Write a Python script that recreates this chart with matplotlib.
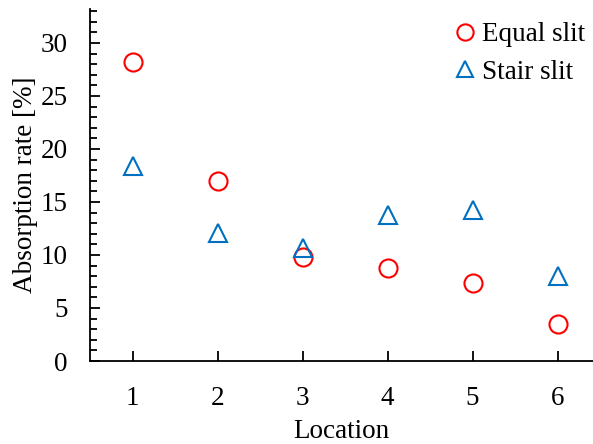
import matplotlib
matplotlib.use("Agg")
import matplotlib.pyplot as plt
from matplotlib.ticker import MultipleLocator

location = [1, 2, 3, 4, 5, 6]
equal_slit = [28.2, 17.0, 9.8, 8.8, 7.4, 3.5]
stair_slit = [18.4, 12.1, 10.7, 13.8, 14.2, 8.0]

plt.rcParams["font.family"] = ["Liberation Serif", "DejaVu Serif"]
plt.rcParams["font.size"] = 19.5

fig = plt.figure(figsize=(5.93, 4.44), dpi=100)
ax = fig.add_axes([90 / 593, 1 - 361 / 444, 503 / 593, 352 / 444])

ax.plot(location, equal_slit, "o", ms=13, mfc="none", mec="#ff0000", mew=1.5,
        ls="none", label="Equal slit")
ax.plot(location, stair_slit, "^", ms=13, mfc="none", mec="#0070c0", mew=1.5,
        ls="none", label="Stair slit")

ax.set_xlim(0.5, 0.5 + 503 / 85)
ax.set_ylim(0, 33.2)
ax.set_xticks(location)
ax.yaxis.set_major_locator(MultipleLocator(5))
ax.yaxis.set_minor_locator(MultipleLocator(1))
ax.tick_params(axis="both", which="major", direction="in", length=7, width=1.3)
ax.tick_params(axis="x", which="major", pad=18)
ax.tick_params(axis="y", which="major", pad=16)
ax.tick_params(axis="y", which="minor", direction="in", length=5, width=1.3)
ax.tick_params(axis="x", which="minor", bottom=False)
for s in ["top", "right"]:
    ax.spines[s].set_visible(False)
for s in ["left", "bottom"]:
    ax.spines[s].set_linewidth(1.3)

ax.set_xlabel("Location", labelpad=6)
ax.set_ylabel("Absorption rate [%]", labelpad=2)

ax.legend(loc="upper right", bbox_to_anchor=(1.016, 1.008), frameon=False,
          handlelength=0.6, handletextpad=0.3, labelspacing=0.45,
          borderaxespad=0.2, markerscale=0.9)

fig.savefig("out.png", dpi=100)
